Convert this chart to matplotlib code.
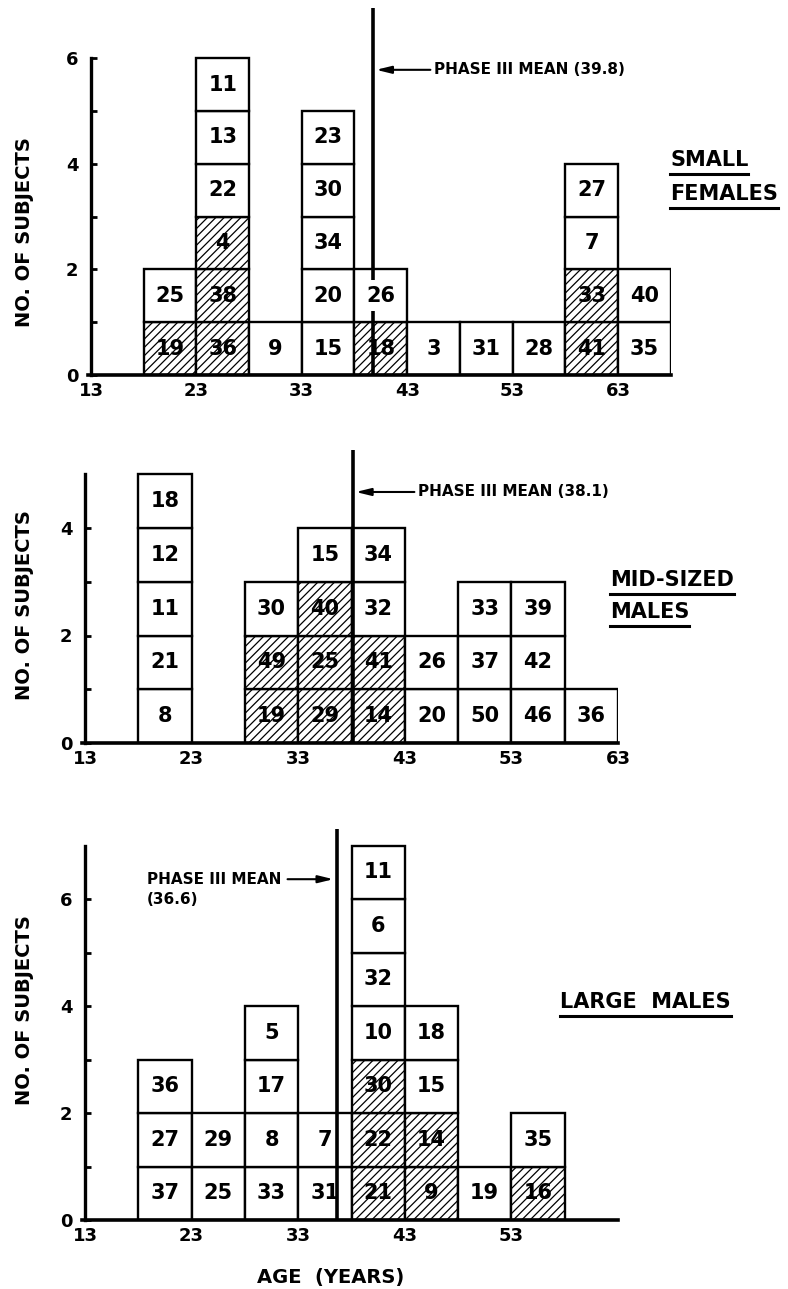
import matplotlib
matplotlib.use('Agg')
import matplotlib.pyplot as plt
from matplotlib.lines import Line2D

plt.rcParams['font.family'] = ['DejaVu Sans']
plt.rcParams['font.weight'] = 'bold'
plt.rcParams['hatch.linewidth'] = 0.9

# ---------------- data ----------------
bin_width = 5

sf_bins = [18, 23, 28, 33, 38, 43, 48, 53, 58, 63]
sf_ids = [[19, 25], [36, 38, 4, 22, 13, 11], [9], [15, 20, 34, 30, 23], [18, 26],
          [3], [31], [28], [41, 33, 7, 27], [35, 40]]
sf_hatched = [19, 36, 38, 4, 18, 41, 33]
sf_mean = 39.8

mm_bins = [18, 28, 33, 38, 43, 48, 53, 58]
mm_ids = [[8, 21, 11, 12, 18], [19, 49, 30], [29, 25, 40, 15], [14, 41, 32, 34],
          [20, 26], [50, 37, 33], [46, 42, 39], [36]]
mm_hatched = [19, 49, 29, 25, 40, 14, 41]
mm_mean = 38.1

lm_bins = [18, 23, 28, 33, 38, 43, 48, 53]
lm_ids = [[37, 27, 36], [25, 29], [33, 8, 17, 5], [31, 7], [21, 22, 30, 10, 32, 6, 11],
          [9, 14, 15, 18], [19], [16, 35]]
lm_hatched = [21, 22, 30, 9, 14, 16]
lm_mean = 36.6

sf_xticks = [13, 23, 33, 43, 53, 63]
mm_xticks = [13, 23, 33, 43, 53, 63]
lm_xticks = [13, 23, 33, 43, 53]
sf_yticks = [0, 2, 4, 6]
mm_yticks = [0, 2, 4]
lm_yticks = [0, 2, 4, 6]

panel_titles = [["SMALL", "FEMALES"], ["MID-SIZED", "MALES"], ["LARGE  MALES"]]

# ---------------- figure ----------------
W, H = 788, 1289
fig = plt.figure(figsize=(W / 100, H / 100), dpi=100)


def px_axes(left_px, x0, x1, ppy, bottom_px, y1, ppy_unit):
    width = (x1 - x0) * ppy
    height = y1 * ppy_unit
    return fig.add_axes([left_px / W, (H - bottom_px) / H, width / W, height / H])


def style_axes(ax, xlim, ylim, ybound, xticks, yticks):
    ax.set_xlim(*xlim)
    ax.set_ylim(*ylim)
    for s in ['top', 'right']:
        ax.spines[s].set_visible(False)
    ax.spines['left'].set_linewidth(2.4)
    ax.spines['bottom'].set_linewidth(2.6)
    ax.spines['left'].set_bounds(0, ybound)
    ax.spines['bottom'].set_bounds(xlim[0] - 0.3, xlim[1])
    ax.set_xticks(xticks)
    ax.set_xticklabels([str(t) for t in xticks], fontsize=13, fontweight='bold')
    ax.tick_params(axis='x', length=0, pad=5)
    ax.set_yticks(yticks)
    ax.set_yticklabels([str(t) for t in yticks], fontsize=13, fontweight='bold')
    ax.set_yticks(list(range(1, ybound, 2)), minor=True)
    ax.tick_params(axis='y', which='both', direction='in', length=4, width=2, pad=9)
    ax.patch.set_visible(False)


def draw_boxes(ax, bins, ids, hatched):
    for left, col in zip(bins, ids):
        for level, sid in enumerate(col):
            ax.bar(left, 1, width=bin_width, bottom=level, align='edge',
                   color='white', edgecolor='black', linewidth=1.7,
                   hatch='////' if sid in hatched else None, zorder=2)
            ax.text(left + bin_width / 2, level + 0.5, str(sid), ha='center',
                    va='center', fontsize=15, fontweight='bold', zorder=4)


arrow_kw = dict(arrowstyle='-|>,head_length=0.9,head_width=0.22',
                lw=1.5, color='black', shrinkA=0, shrinkB=0)
mean_fs = 11

# Panel 1: small females
ax1 = px_axes(91, 13, 68, 10.54, 375, 7.0, 52.8)
style_axes(ax1, (13, 68), (0, 7.0), 6, sf_xticks, sf_yticks)
draw_boxes(ax1, sf_bins, sf_ids, sf_hatched)
ax1.plot([sf_mean] * 2, [0, 1.22], color='black', lw=2.6, zorder=5, solid_capstyle='butt')
ax1.plot([sf_mean] * 2, [1.8, 6.95], color='black', lw=2.6, zorder=5, solid_capstyle='butt')
ax1.annotate('', xy=(sf_mean + 0.25, 5.78), xytext=(45.2, 5.78), arrowprops=arrow_kw, zorder=5)
ax1.text(45.5, 5.78, 'PHASE III MEAN (39.8)', fontsize=mean_fs, fontweight='bold',
         ha='left', va='center')

# Panel 2: mid-sized males
ax2 = px_axes(85, 13, 63, 10.66, 743, 5.5, 53.75)
style_axes(ax2, (13, 63), (0, 5.5), 5, mm_xticks, mm_yticks)
draw_boxes(ax2, mm_bins, mm_ids, mm_hatched)
ax2.plot([mm_mean] * 2, [0, 5.45], color='black', lw=2.6, zorder=5, solid_capstyle='butt')
ax2.annotate('', xy=(mm_mean + 0.3, 4.67), xytext=(43.9, 4.67), arrowprops=arrow_kw, zorder=5)
ax2.text(44.2, 4.67, 'PHASE III MEAN (38.1)', fontsize=mean_fs, fontweight='bold',
         ha='left', va='center')

# Panel 3: large males
ax3 = px_axes(85, 13, 63, 10.66, 1220, 7.3, 53.5)
style_axes(ax3, (13, 63), (0, 7.3), 7, lm_xticks, lm_yticks)
draw_boxes(ax3, lm_bins, lm_ids, lm_hatched)
ax3.plot([lm_mean] * 2, [0, 7.3], color='black', lw=2.6, zorder=5, solid_capstyle='butt')
ax3.annotate('', xy=(lm_mean - 0.3, 6.37), xytext=(32.0, 6.37), arrowprops=arrow_kw, zorder=5)
ax3.text(18.8, 6.37, 'PHASE III MEAN', fontsize=mean_fs, fontweight='bold', ha='left', va='center')
ax3.text(18.8, 6.0, '(36.6)', fontsize=mean_fs, fontweight='bold', ha='left', va='center')
ax3.text(36.0, -1.07, 'AGE  (YEARS)', fontsize=14, fontweight='bold', ha='center', va='center',
         transform=ax3.transData)

# y labels
for ycen in [232, 605, 1010]:
    fig.text(25 / W, 1 - ycen / H, 'NO. OF SUBJECTS', rotation=90, fontsize=14,
             fontweight='bold', ha='center', va='center')

# panel titles with underlines
title_pos = [(670, [160, 194]), (610, [580, 612]), (560, [1002])]
texts = []
for (xl, ys), lines in zip(title_pos, panel_titles):
    for yy, line in zip(ys, lines):
        t = fig.text(xl / W, 1 - yy / H, line, fontsize=15, fontweight='bold',
                     ha='left', va='center')
        texts.append(t)

fig.canvas.draw()
r = fig.canvas.get_renderer()
for t in texts:
    bb = t.get_window_extent(renderer=r)
    yline = (bb.y0 - 4) / H
    fig.add_artist(Line2D([bb.x0 / W, bb.x1 / W], [yline, yline], color='black', lw=2.2))

fig.savefig('out.png', dpi=100, facecolor='white')
